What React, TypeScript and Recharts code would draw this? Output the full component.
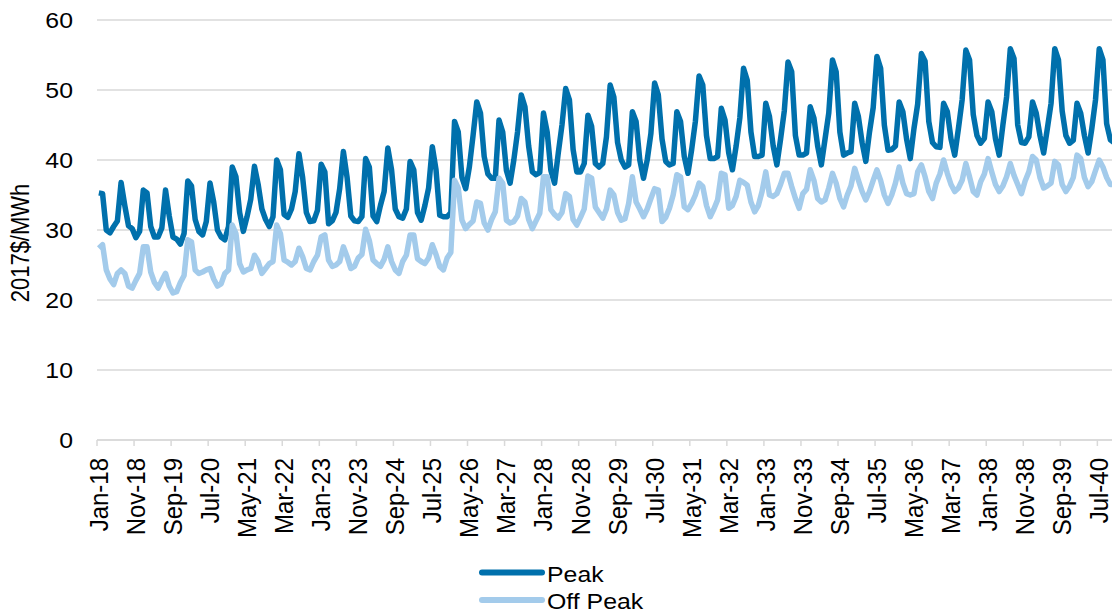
import React from 'react';
import { LineChart, Line, XAxis, YAxis, CartesianGrid, Legend } from 'recharts';

// Categories
const monthNames = ['Jan', 'Feb', 'Mar', 'Apr', 'May', 'Jun', 'Jul', 'Aug', 'Sep', 'Oct', 'Nov', 'Dec'];
const yearLabels = ['18', '19', '20', '21', '22', '23', '24', '25', '26', '27', '28', '29', '30', '31', '32', '33', '34', '35', '36', '37', '38', '39', '40'];

// Y axis ticks
const yTicks = [0, 10, 20, 30, 40, 50, 60];

// Series names (legend order)
const seriesNames = { peak: 'Peak', offPeak: 'Off Peak' };
const legendOrder = [seriesNames.peak, seriesNames.offPeak];
const yAxisTitle = '2017$/MWh';

// Peak prices, monthly Jan-18 .. Dec-40
const peakValues = [
  35.3, 35.2, 30.0, 29.6, 30.5, 31.3, 36.8, 33.5, 30.6, 30.2, 28.9, 29.8, // 2018
  35.7, 35.3, 30.5, 29.0, 29.0, 30.3, 35.7, 32.0, 29.0, 28.7, 28.0, 29.5, // 2019
  37.0, 36.3, 31.5, 29.8, 29.3, 31.2, 36.7, 34.0, 30.0, 29.0, 28.6, 30.5, // 2020
  39.0, 37.6, 32.5, 29.8, 31.9, 34.4, 39.1, 36.5, 33.0, 31.5, 30.5, 31.9, // 2021
  40.0, 38.6, 32.2, 31.8, 33.0, 35.5, 40.9, 37.5, 32.5, 31.2, 31.3, 32.8, // 2022
  39.4, 38.3, 30.9, 31.3, 32.5, 35.9, 41.2, 37.5, 32.0, 31.3, 31.2, 31.9, // 2023
  40.2, 39.0, 32.0, 31.2, 33.5, 35.5, 41.7, 38.6, 33.0, 31.9, 31.7, 33.0, // 2024
  39.8, 38.6, 32.5, 31.4, 33.5, 36.0, 41.9, 38.6, 32.1, 31.9, 31.9, 32.5, // 2025
  45.5, 44.0, 37.5, 35.9, 39.0, 43.5, 48.3, 46.7, 40.5, 38.0, 37.4, 37.4, // 2026
  45.7, 44.0, 38.5, 36.7, 40.0, 44.0, 49.3, 47.6, 42.0, 38.3, 37.9, 38.2, // 2027
  46.7, 44.0, 38.5, 36.7, 41.0, 45.0, 50.2, 48.6, 41.5, 38.3, 38.3, 39.5, // 2028
  46.4, 44.8, 39.5, 39.0, 39.5, 43.3, 50.7, 49.0, 42.5, 40.0, 39.0, 39.3, // 2029
  46.9, 45.5, 40.0, 37.4, 40.0, 43.8, 51.0, 49.3, 43.0, 39.8, 39.3, 39.5, // 2030
  46.9, 45.5, 40.5, 38.1, 41.5, 45.5, 52.0, 50.7, 43.5, 40.2, 40.2, 40.5, // 2031
  47.4, 45.7, 41.0, 38.6, 42.0, 46.0, 53.1, 51.4, 44.0, 40.5, 40.5, 40.7, // 2032
  48.1, 46.2, 42.0, 39.3, 43.0, 47.0, 54.0, 52.6, 43.5, 40.7, 40.7, 41.0, // 2033
  47.6, 46.0, 42.0, 39.3, 43.0, 46.7, 54.3, 52.6, 44.0, 40.7, 41.0, 41.2, // 2034
  48.1, 46.2, 42.5, 39.8, 44.0, 47.5, 54.8, 53.1, 45.0, 41.4, 41.5, 42.0, // 2035
  48.3, 46.9, 43.0, 40.2, 44.5, 48.0, 55.2, 54.1, 45.5, 42.5, 41.9, 41.8, // 2036
  48.1, 46.9, 43.0, 40.7, 44.5, 48.6, 55.7, 54.3, 46.5, 43.5, 42.4, 43.1, // 2037
  48.3, 46.9, 43.0, 40.7, 45.0, 49.0, 55.9, 54.5, 45.0, 42.5, 42.4, 43.3, // 2038
  48.3, 46.7, 43.5, 41.0, 44.5, 48.1, 55.9, 54.3, 47.0, 43.5, 42.4, 42.8, // 2039
  48.1, 46.7, 43.5, 41.0, 44.5, 48.6, 55.9, 54.3, 45.2, 42.9, 42.5, 43.5, // 2040
];

// Off-peak prices, monthly Jan-18 .. Dec-40
const offPeakValues = [
  27.4, 27.9, 24.3, 23.0, 22.2, 23.8, 24.3, 23.8, 22.0, 21.7, 22.8, 23.8, // 2018
  27.6, 27.6, 24.0, 22.5, 21.7, 22.8, 23.8, 22.0, 21.0, 21.2, 22.5, 23.5, // 2019
  28.6, 28.3, 24.3, 23.8, 24.0, 24.3, 24.5, 23.0, 22.0, 22.3, 23.8, 24.3, // 2020
  30.7, 29.5, 25.2, 24.0, 24.3, 24.5, 26.4, 25.5, 23.8, 24.5, 25.2, 25.5, // 2021
  30.7, 29.5, 25.7, 25.4, 25.0, 25.5, 27.4, 26.2, 24.5, 24.3, 25.5, 26.4, // 2022
  29.0, 29.3, 25.7, 24.8, 25.0, 25.5, 27.6, 26.2, 24.5, 24.8, 26.0, 26.5, // 2023
  30.1, 28.5, 25.7, 25.2, 24.8, 25.8, 27.6, 25.5, 24.3, 23.8, 25.5, 26.4, // 2024
  29.3, 29.3, 25.9, 25.5, 25.2, 26.0, 27.9, 26.5, 24.8, 24.3, 26.0, 26.8, // 2025
  37.1, 36.0, 31.4, 30.2, 30.8, 31.3, 34.0, 33.8, 31.0, 30.0, 31.5, 32.6, // 2026
  37.4, 36.7, 31.4, 31.0, 31.2, 32.0, 34.5, 34.0, 31.5, 30.2, 31.3, 32.4, // 2027
  37.6, 37.6, 32.9, 32.2, 31.7, 32.5, 35.2, 34.8, 31.5, 30.7, 31.8, 33.0, // 2028
  37.7, 37.4, 33.3, 32.5, 31.7, 33.0, 35.7, 35.0, 32.5, 31.4, 31.6, 33.8, // 2029
  37.6, 34.0, 33.0, 31.9, 33.0, 34.5, 35.9, 35.7, 31.2, 31.8, 33.1, 35.0, // 2030
  37.9, 37.6, 33.3, 32.9, 33.8, 35.0, 36.7, 36.2, 33.5, 31.9, 33.0, 34.3, // 2031
  38.1, 37.9, 33.1, 33.5, 34.8, 37.1, 36.8, 36.4, 34.0, 32.6, 33.5, 35.5, // 2032
  38.3, 35.0, 34.8, 35.2, 36.5, 38.1, 38.1, 36.2, 34.5, 33.1, 35.2, 35.8, // 2033
  38.6, 37.1, 34.5, 34.0, 34.3, 36.0, 38.1, 36.7, 34.5, 33.3, 35.0, 36.3, // 2034
  38.8, 37.1, 35.5, 34.3, 35.5, 37.1, 38.6, 37.1, 35.0, 33.8, 35.0, 36.7, // 2035
  39.0, 36.7, 35.2, 35.0, 35.2, 38.3, 39.3, 37.6, 35.5, 34.5, 36.7, 38.0, // 2036
  40.0, 38.1, 36.5, 35.5, 36.0, 37.1, 39.5, 37.6, 35.5, 35.0, 36.9, 38.0, // 2037
  40.2, 38.3, 36.5, 35.5, 36.3, 37.6, 39.5, 37.8, 36.5, 35.2, 37.0, 38.3, // 2038
  40.5, 40.0, 37.5, 36.0, 36.3, 36.7, 39.8, 39.3, 36.5, 35.5, 36.3, 37.5, // 2039
  40.7, 40.2, 37.5, 36.2, 36.9, 38.5, 40.0, 39.0, 37.5, 36.5, 36.5, 37.5, // 2040
];

const categories: string[] = [];
yearLabels.forEach((y) => monthNames.forEach((m) => categories.push(`${m}-${y}`)));

const data = categories.map((label, i) => ({
  label,
  peak: peakValues[i],
  offPeak: offPeakValues[i],
}));

const FONT = '"Liberation Sans", Arial, sans-serif';
const TEXT = '#000';
const GRID = '#d9d9d9';
const PEAK_COLOR = '#0070AC';
const OFF_COLOR = '#A3CBEB';
const STRETCH = 1.13;
const HALF_BAND = 1.85;
const LINE_W = 5.5;

const XTick = (props: any) => {
  const { x, y, payload } = props;
  return (
    <g>
      <line x1={x - HALF_BAND} x2={x - HALF_BAND} y1={y} y2={y + 6} stroke={GRID} strokeWidth={1.5} />
      <text
        transform={`translate(${x + 9},${y + 18}) scale(1.1,1) rotate(-90)`}
        textAnchor="end"
        fontSize={24}
        fontFamily={FONT}
        fill={TEXT}
      >
        {payload.value}
      </text>
    </g>
  );
};

const YTick = (props: any) => {
  const { x, y, payload } = props;
  return (
    <text
      transform={`translate(${x},${y + 8}) scale(${STRETCH},1)`}
      textAnchor="end"
      fontSize={22}
      fontFamily={FONT}
      fill={TEXT}
    >
      {payload.value}
    </text>
  );
};

const YLabel = () => (
  <text
    transform={`translate(29,243) scale(${STRETCH},1) rotate(-90)`}
    textAnchor="middle"
    fontSize={22}
    fontFamily={FONT}
    fill={TEXT}
  >
    {yAxisTitle}
  </text>
);

const LegendContent = (props: any) => {
  const raw = props.payload || [];
  const items = legendOrder
    .map((name) => raw.find((p: any) => p.value === name))
    .filter(Boolean);
  return (
    <svg width={260} height={64} style={{ display: 'block' }}>
      {items.map((p: any, i: number) => (
        <g key={p.value} transform={`translate(0,${i * 27.5})`}>
          <line x1={12} x2={72} y1={22.5} y2={22.5} stroke={p.color} strokeWidth={6} strokeLinecap="round" />
          <text
            transform={`translate(77,31.7) scale(${STRETCH},1)`}
            fontSize={22}
            fontFamily={FONT}
            fill={TEXT}
          >
            {p.value}
          </text>
        </g>
      ))}
    </svg>
  );
};

export default function App() {
  return (
    <div
      style={{
        position: 'absolute',
        left: 0,
        top: 0,
        width: 1112,
        height: 614,
        overflow: 'hidden',
        background: '#fff',
      }}
    >
      <LineChart
        width={1130}
        height={614}
        data={data}
        margin={{ top: 20, right: 10.4, left: 0, bottom: 0 }}
      >
        <CartesianGrid vertical={false} stroke={GRID} strokeWidth={1.5} />
        <XAxis
          dataKey="label"
          interval={9}
          height={174}
          padding={{ left: HALF_BAND, right: HALF_BAND }}
          axisLine={{ stroke: GRID, strokeWidth: 1.5 }}
          tickLine={false}
          tickSize={0}
          tickMargin={0}
          tick={<XTick />}
        />
        <YAxis
          width={97}
          domain={[0, 60]}
          ticks={yTicks}
          axisLine={false}
          tickLine={false}
          tickSize={0}
          tickMargin={24}
          tick={<YTick />}
          label={<YLabel />}
        />
        <Legend
          layout="vertical"
          align="center"
          verticalAlign="middle"
          wrapperStyle={{ left: 470, top: 550, width: 260, height: 64 }}
          content={<LegendContent />}
        />
        <Line
          type="linear"
          dataKey="peak"
          name={seriesNames.peak}
          stroke={PEAK_COLOR}
          strokeWidth={LINE_W}
          strokeLinejoin="round"
          dot={false}
          activeDot={false}
          isAnimationActive={false}
        />
        <Line
          type="linear"
          dataKey="offPeak"
          name={seriesNames.offPeak}
          stroke={OFF_COLOR}
          strokeWidth={LINE_W}
          strokeLinejoin="round"
          dot={false}
          activeDot={false}
          isAnimationActive={false}
        />
      </LineChart>
    </div>
  );
}
